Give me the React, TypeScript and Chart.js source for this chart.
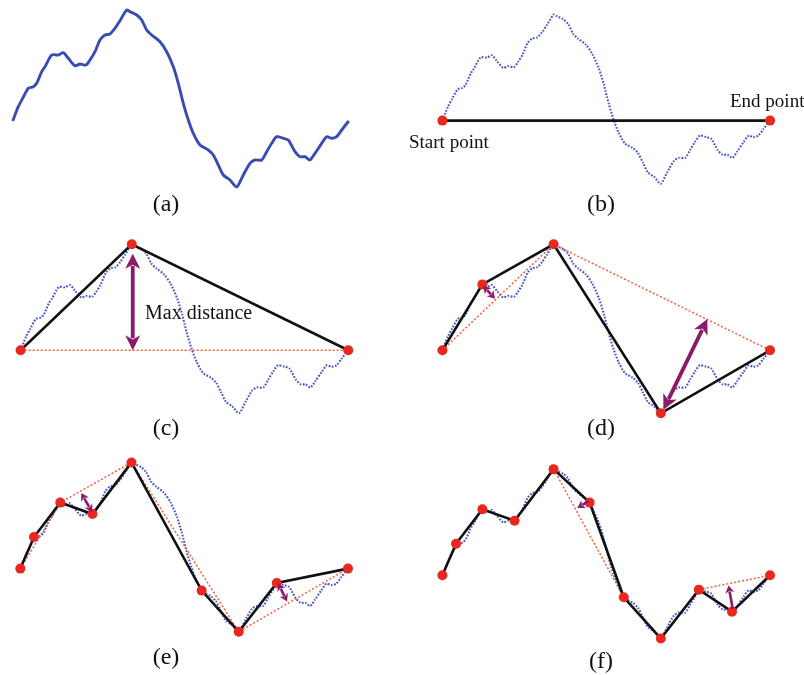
import React, { useEffect, useRef } from "react";
import { Chart, registerables } from "chart.js";
Chart.register(...registerables);

// ---- Data: the noisy profile (horizontal position, elevation) ----
const curveX = [0, 5.6, 10, 15.6, 20.6, 24, 29, 32.3, 39, 45.6, 50.6, 55.6, 62.3, 67.3, 73.3, 77.3, 82.3, 87.3, 92.3, 97.3, 102.3, 107.3, 114, 117.3, 124, 129, 134, 139, 147.3, 154, 160.6, 165.6, 170.6, 175.6, 180.6, 187.3, 195.6, 200.6, 205.6, 210.6, 217.3, 224, 230.6, 237.3, 242.3, 249, 254, 259, 264, 270.6, 275.6, 282.3, 287.3, 292.3, 297.3, 302.3, 309, 314, 319, 324, 329, 336];
const curveY = [0, 14.3, 22.7, 32.7, 34.3, 37.7, 49.3, 54.3, 66, 66, 68.3, 62.7, 55.3, 57, 56, 61, 69.3, 81, 86, 87, 92.7, 100.3, 111, 109.3, 106, 101, 91, 86, 79.3, 69.3, 54.3, 37.7, 17.7, 1, -12.3, -24, -29, -34, -44, -54, -59, -66, -54, -42.3, -39, -39, -30.7, -22.3, -15.7, -17.3, -19, -30.7, -35.7, -35.7, -39, -32.3, -22.3, -15.7, -17.3, -15.7, -9, 0];

// ---- Simplified polylines (kept points) per step ----
const pathB_X = [0, 336];
const pathB_Y = [0, 0];
const pathC_X = [0, 114, 336];
const pathC_Y = [0, 111, 0];
const pathD_X = [0, 41, 114, 224, 336];
const pathD_Y = [0, 69, 111, -66, 0];
const pathE_X = [0, 14, 41, 74, 114, 186, 224, 263, 336];
const pathE_Y = [0, 33, 69, 57, 111, -23, -66, -15, 0];
const pathF_X = [0, 14, 41, 74, 114, 151, 186, 224, 263, 297, 336];
const pathF_Y = [0, 33, 69, 57, 111, 76, -23, -66, -15, -38, 0];

// ---- Reference (candidate) segments, dotted red ----
const refC_X = [0, 336];
const refC_Y = [0, 0];
const refD_X = [0, 114, 336];
const refD_Y = [0, 111, 0];
const refE_X = [0, 41, 114, 224, 336];
const refE_Y = [0, 69, 111, -66, 0];
const refF1_X = [114, 186];
const refF1_Y = [111, -23];
const refF2_X = [263, 336];
const refF2_Y = [-15, 0];

// ---- Distance arrows: [x1, y1, x2, y2] ----
const arrowC = [115, 101, 115, 0];
const arrowD1 = [41.7, 67.7, 54, 54];
const arrowD2 = [271.7, 32.7, 226.7, -62.3];
const arrowE1 = [62.6, 79, 73.6, 59];
const arrowE2 = [264.3, -15.3, 273.6, -34.3];
const arrowF1 = [150, 77.7, 138.4, 70.3];
const arrowF2 = [293.4, -10.7, 297.7, -35];

const BLUE = "#3a4cb2";
const BLUE_DOT = "#4858c2";
const RED = "#e8281e";
const RED_LINE = "#f2603c";
const PURPLE = "#8b1a6b";
const BLACK = "#111111";

const zip = (xs: number[], ys: number[]) => xs.map((x, i) => ({ x, y: ys[i] }));

type ArrowSpec = { v: number[]; w: number; head: number; half: number; heads: "both" | "start" | "end" };

type PanelSpec = {
  left: number; top: number; w: number; h: number; ox: number; oy: number;
  dotted: boolean;
  black?: [number[], number[]];
  refs?: [number[], number[]][];
  arrows?: ArrowSpec[];
};

function makeArrowPlugin(arrows: ArrowSpec[]) {
  return {
    id: "arrows",
    afterDatasetsDraw(chart: any) {
      const ctx = chart.ctx as CanvasRenderingContext2D;
      const xs = chart.scales.x;
      const ys = chart.scales.y;
      ctx.save();
      for (const a of arrows) {
        const x1 = xs.getPixelForValue(a.v[0]);
        const y1 = ys.getPixelForValue(a.v[1]);
        const x2 = xs.getPixelForValue(a.v[2]);
        const y2 = ys.getPixelForValue(a.v[3]);
        const len = Math.hypot(x2 - x1, y2 - y1);
        const ux = (x2 - x1) / len;
        const uy = (y2 - y1) / len;
        const hs = a.heads === "both" || a.heads === "start";
        const he = a.heads === "both" || a.heads === "end";
        const sx1 = hs ? x1 + ux * a.head * 0.8 : x1;
        const sy1 = hs ? y1 + uy * a.head * 0.8 : y1;
        const sx2 = he ? x2 - ux * a.head * 0.8 : x2;
        const sy2 = he ? y2 - uy * a.head * 0.8 : y2;
        ctx.strokeStyle = PURPLE;
        ctx.fillStyle = PURPLE;
        ctx.lineWidth = a.w;
        ctx.lineCap = "butt";
        ctx.beginPath();
        ctx.moveTo(sx1, sy1);
        ctx.lineTo(sx2, sy2);
        ctx.stroke();
        const head = (tx: number, ty: number, dx: number, dy: number) => {
          const bx = tx - dx * a.head;
          const by = ty - dy * a.head;
          ctx.beginPath();
          ctx.moveTo(tx, ty);
          ctx.lineTo(bx - dy * a.half, by + dx * a.half);
          ctx.lineTo(tx - dx * a.head * 0.72, ty - dy * a.head * 0.72);
          ctx.lineTo(bx + dy * a.half, by - dx * a.half);
          ctx.closePath();
          ctx.fill();
        };
        if (he) head(x2, y2, ux, uy);
        if (hs) head(x1, y1, -ux, -uy);
      }
      ctx.restore();
    },
  };
}

function Panel({ spec }: { spec: PanelSpec }) {
  const ref = useRef<HTMLCanvasElement>(null);
  useEffect(() => {
    const s = spec;
    const datasets: any[] = [];
    datasets.push({
      data: zip(curveX, curveY),
      borderColor: s.dotted ? BLUE_DOT : BLUE,
      borderWidth: s.dotted ? 2.1 : 2.9,
      borderDash: s.dotted ? [1.7, 1.5] : [],
      pointRadius: 0,
      tension: 0.25,
      fill: false,
      order: 4,
    });
    (s.refs || []).forEach(([xs, ys]) => {
      datasets.push({
        data: zip(xs, ys),
        borderColor: RED_LINE,
        borderWidth: 1.5,
        borderDash: [2, 2],
        pointRadius: 0,
        tension: 0,
        fill: false,
        order: 3,
      });
    });
    if (s.black) {
      datasets.push({
        data: zip(s.black[0], s.black[1]),
        borderColor: BLACK,
        borderWidth: 2.6,
        pointRadius: 0,
        tension: 0,
        fill: false,
        order: 2,
      });
      datasets.push({
        data: zip(s.black[0], s.black[1]),
        showLine: false,
        pointRadius: 5,
        pointBackgroundColor: RED,
        pointBorderColor: RED,
        pointBorderWidth: 0,
        order: 1,
      });
    }
    const chart = new Chart(ref.current as HTMLCanvasElement, {
      type: "line",
      data: { datasets },
      options: {
        animation: false,
        responsive: false,
        maintainAspectRatio: false,
        events: [],
        layout: { padding: 0 },
        plugins: {
          legend: { display: false },
          tooltip: { enabled: false },
          title: { display: false },
        },
        scales: {
          x: { type: "linear", display: false, min: -s.ox, max: s.w - s.ox },
          y: { type: "linear", display: false, min: -(s.h - s.oy), max: s.oy },
        },
      },
      plugins: [makeArrowPlugin(s.arrows || [])],
    } as any);
    return () => chart.destroy();
  }, []);
  return (
    <canvas
      ref={ref}
      width={spec.w}
      height={spec.h}
      style={{ position: "absolute", left: spec.left, top: spec.top, width: spec.w, height: spec.h }}
    />
  );
}

const big = (v: number[]): ArrowSpec => ({ v, w: 3.8, head: 15, half: 7.5, heads: "both" });
const small = (v: number[], heads: "both" | "start" | "end" = "both"): ArrowSpec => ({ v, w: 2.6, head: 7.5, half: 4.5, heads });

const panels: PanelSpec[] = [
  { left: 0, top: 0, w: 402, h: 225, ox: 12.7, oy: 121, dotted: false },
  { left: 402, top: 0, w: 402, h: 225, ox: 36.3, oy: 121, dotted: true, black: [pathB_X, pathB_Y] },
  { left: 0, top: 225, w: 402, h: 220, ox: 16, oy: 126, dotted: true, black: [pathC_X, pathC_Y], refs: [[refC_X, refC_Y]], arrows: [big(arrowC)] },
  { left: 402, top: 225, w: 402, h: 220, ox: 36.3, oy: 126, dotted: true, black: [pathD_X, pathD_Y], refs: [[refD_X, refD_Y]], arrows: [small(arrowD1), big(arrowD2)] },
  { left: 0, top: 445, w: 402, h: 230, ox: 15.7, oy: 124, dotted: true, black: [pathE_X, pathE_Y], refs: [[refE_X, refE_Y]], arrows: [small(arrowE1), small(arrowE2)] },
  { left: 402, top: 445, w: 402, h: 230, ox: 36.3, oy: 131, dotted: true, black: [pathF_X, pathF_Y], refs: [[refF1_X, refF1_Y], [refF2_X, refF2_Y]], arrows: [small(arrowF1, "end"), small(arrowF2, "start")] },
];

const SERIF = "'Liberation Serif', 'Times New Roman', 'DejaVu Serif', serif";

function Txt({ text, left, baseline, size, center }: { text: string; left: number; baseline: number; size: number; center?: boolean }) {
  const top = baseline - 0.8375 * size;
  const style: React.CSSProperties = {
    position: "absolute",
    top,
    fontFamily: SERIF,
    fontSize: size,
    lineHeight: `${size}px`,
    color: "#111111",
    whiteSpace: "nowrap",
  };
  if (center) {
    style.left = left - 60;
    style.width = 120;
    style.textAlign = "center";
  } else {
    style.left = left;
  }
  return <div style={style}>{text}</div>;
}

export default function App() {
  return (
    <div style={{ position: "absolute", left: 0, top: 0, width: 804, height: 675, overflow: "hidden", background: "#ffffff" }}>
      {panels.map((p, i) => (
        <Panel key={i} spec={p} />
      ))}
      <Txt text="(a)" left={166} baseline={211} size={24} center />
      <Txt text="(b)" left={601} baseline={211} size={24} center />
      <Txt text="(c)" left={166} baseline={435} size={24} center />
      <Txt text="(d)" left={601} baseline={435} size={24} center />
      <Txt text="(e)" left={166} baseline={664} size={24} center />
      <Txt text="(f)" left={601} baseline={668} size={24} center />
      <Txt text="Start point" left={409} baseline={148} size={19} />
      <Txt text="End point" left={730} baseline={107} size={19} />
      <Txt text="Max distance" left={145} baseline={318.5} size={20} />
    </div>
  );
}
